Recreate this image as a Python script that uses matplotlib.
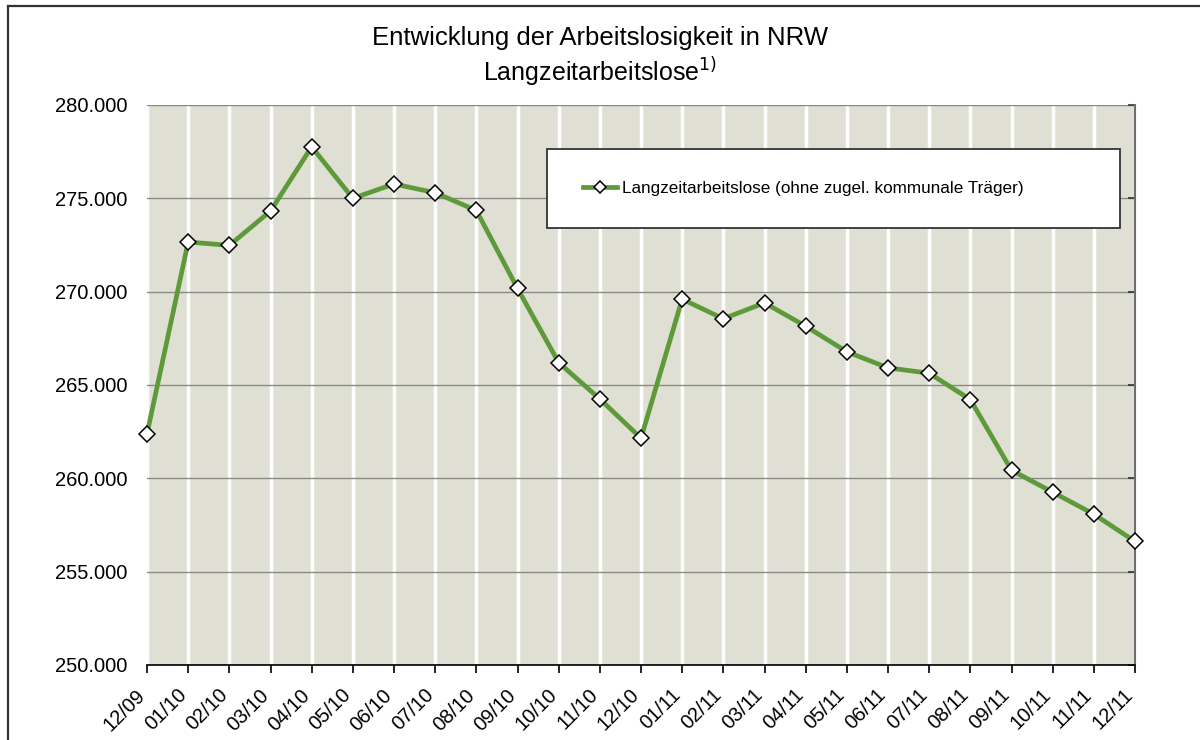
import matplotlib
matplotlib.use("Agg")
import matplotlib.pyplot as plt
from matplotlib.lines import Line2D
from matplotlib.patches import Rectangle
from matplotlib.ticker import FuncFormatter, MultipleLocator

plt.rcParams['font.family'] = ['Liberation Sans', 'DejaVu Sans']

months = ["12/09", "01/10", "02/10", "03/10", "04/10", "05/10", "06/10", "07/10",
          "08/10", "09/10", "10/10", "11/10", "12/10", "01/11", "02/11", "03/11",
          "04/11", "05/11", "06/11", "07/11", "08/11", "09/11", "10/11", "11/11", "12/11"]
values = [262380, 272660, 272480, 274320, 277760, 275000, 275770, 275300,
          274350, 270170, 266200, 264250, 262150, 269600, 268550, 269400,
          268150, 266780, 265920, 265630, 264220, 260430, 259260, 258080, 256620]
series_label = "Langzeitarbeitslose (ohne zugel. kommunale Träger)"

fig = plt.figure(figsize=(12, 7.4), dpi=100)
ax = fig.add_axes([147/1200, 1-665/740, (1135-147)/1200, (665-105)/740])
ax.set_facecolor('#DFE0D3')

x = list(range(len(months)))
ax.plot(x, values, color='#5E9A3A', lw=3.4, marker='D', ms=7.8,
        markerfacecolor='white', markeredgecolor='black', markeredgewidth=1.1,
        label=series_label, zorder=3, clip_on=False)

ax.set_xlim(0, len(months) - 1)
ax.set_ylim(250000, 280000)
ax.yaxis.set_major_locator(MultipleLocator(5000))
ax.yaxis.set_major_formatter(FuncFormatter(lambda v, p: f"{int(v):,}".replace(",", ".")))
ax.set_xticks(x)
ax.set_xticklabels([])
for i, m in enumerate(months):
    ax.annotate(m, xy=(i, 0), xycoords=('data', 'axes fraction'),
                xytext=(-3.5, -19.5), textcoords='offset points',
                rotation=45, ha='right', va='center', rotation_mode='anchor',
                fontsize=14.5, annotation_clip=False)

ax.grid(axis='y', color='#8A8A85', lw=1.0)
ax.grid(axis='x', color='white', lw=2.5)
ax.set_axisbelow(True)

for s in ['left', 'top']:
    ax.spines[s].set_visible(False)
ax.spines['right'].set_color('#6E6E6E')
ax.spines['right'].set_linewidth(1.5)
ax.spines['bottom'].set_color('black')
ax.spines['bottom'].set_linewidth(1.2)

ax.tick_params(axis='y', left=False, right=True, labelleft=True, direction='in',
               length=5, width=1.2, color='#333333', labelsize=14.5, pad=14)
ax.tick_params(axis='x', direction='out', length=6, width=1.2, color='black')

# legend box
bx0, bx1 = (547-147)/988, (1120-147)/988
by0, by1 = (665-228)/560, (665-149)/560
ax.add_patch(Rectangle((bx0, by0), bx1-bx0, by1-by0, transform=ax.transAxes,
                       facecolor='white', edgecolor='#333333', lw=1.3, zorder=5))
leg = ax.legend(loc='center left', bbox_to_anchor=((583-147)/988, (by0+by1)/2),
                frameon=False, fontsize=12.3, borderpad=0, borderaxespad=0,
                handlelength=2.0, handletextpad=0.3)
leg.set_zorder(6)
for h in leg.legend_handles:
    h.set_markersize(6.2)

fig.text(0.5, 1-38/740, "Entwicklung der Arbeitslosigkeit in NRW", ha='center', va='center',
         fontsize=18.5)
fig.text(0.5, 1-72/740, r"Langzeitarbeitslose$^{1)}$", ha='center', va='center', fontsize=18)

fig.add_artist(Line2D([8/1200, 8/1200], [0, 1-6/740], color='#333333', lw=1.6))
fig.add_artist(Line2D([8/1200, 1], [1-6/740, 1-6/740], color='#333333', lw=1.6))

fig.savefig("out.png", dpi=100)
